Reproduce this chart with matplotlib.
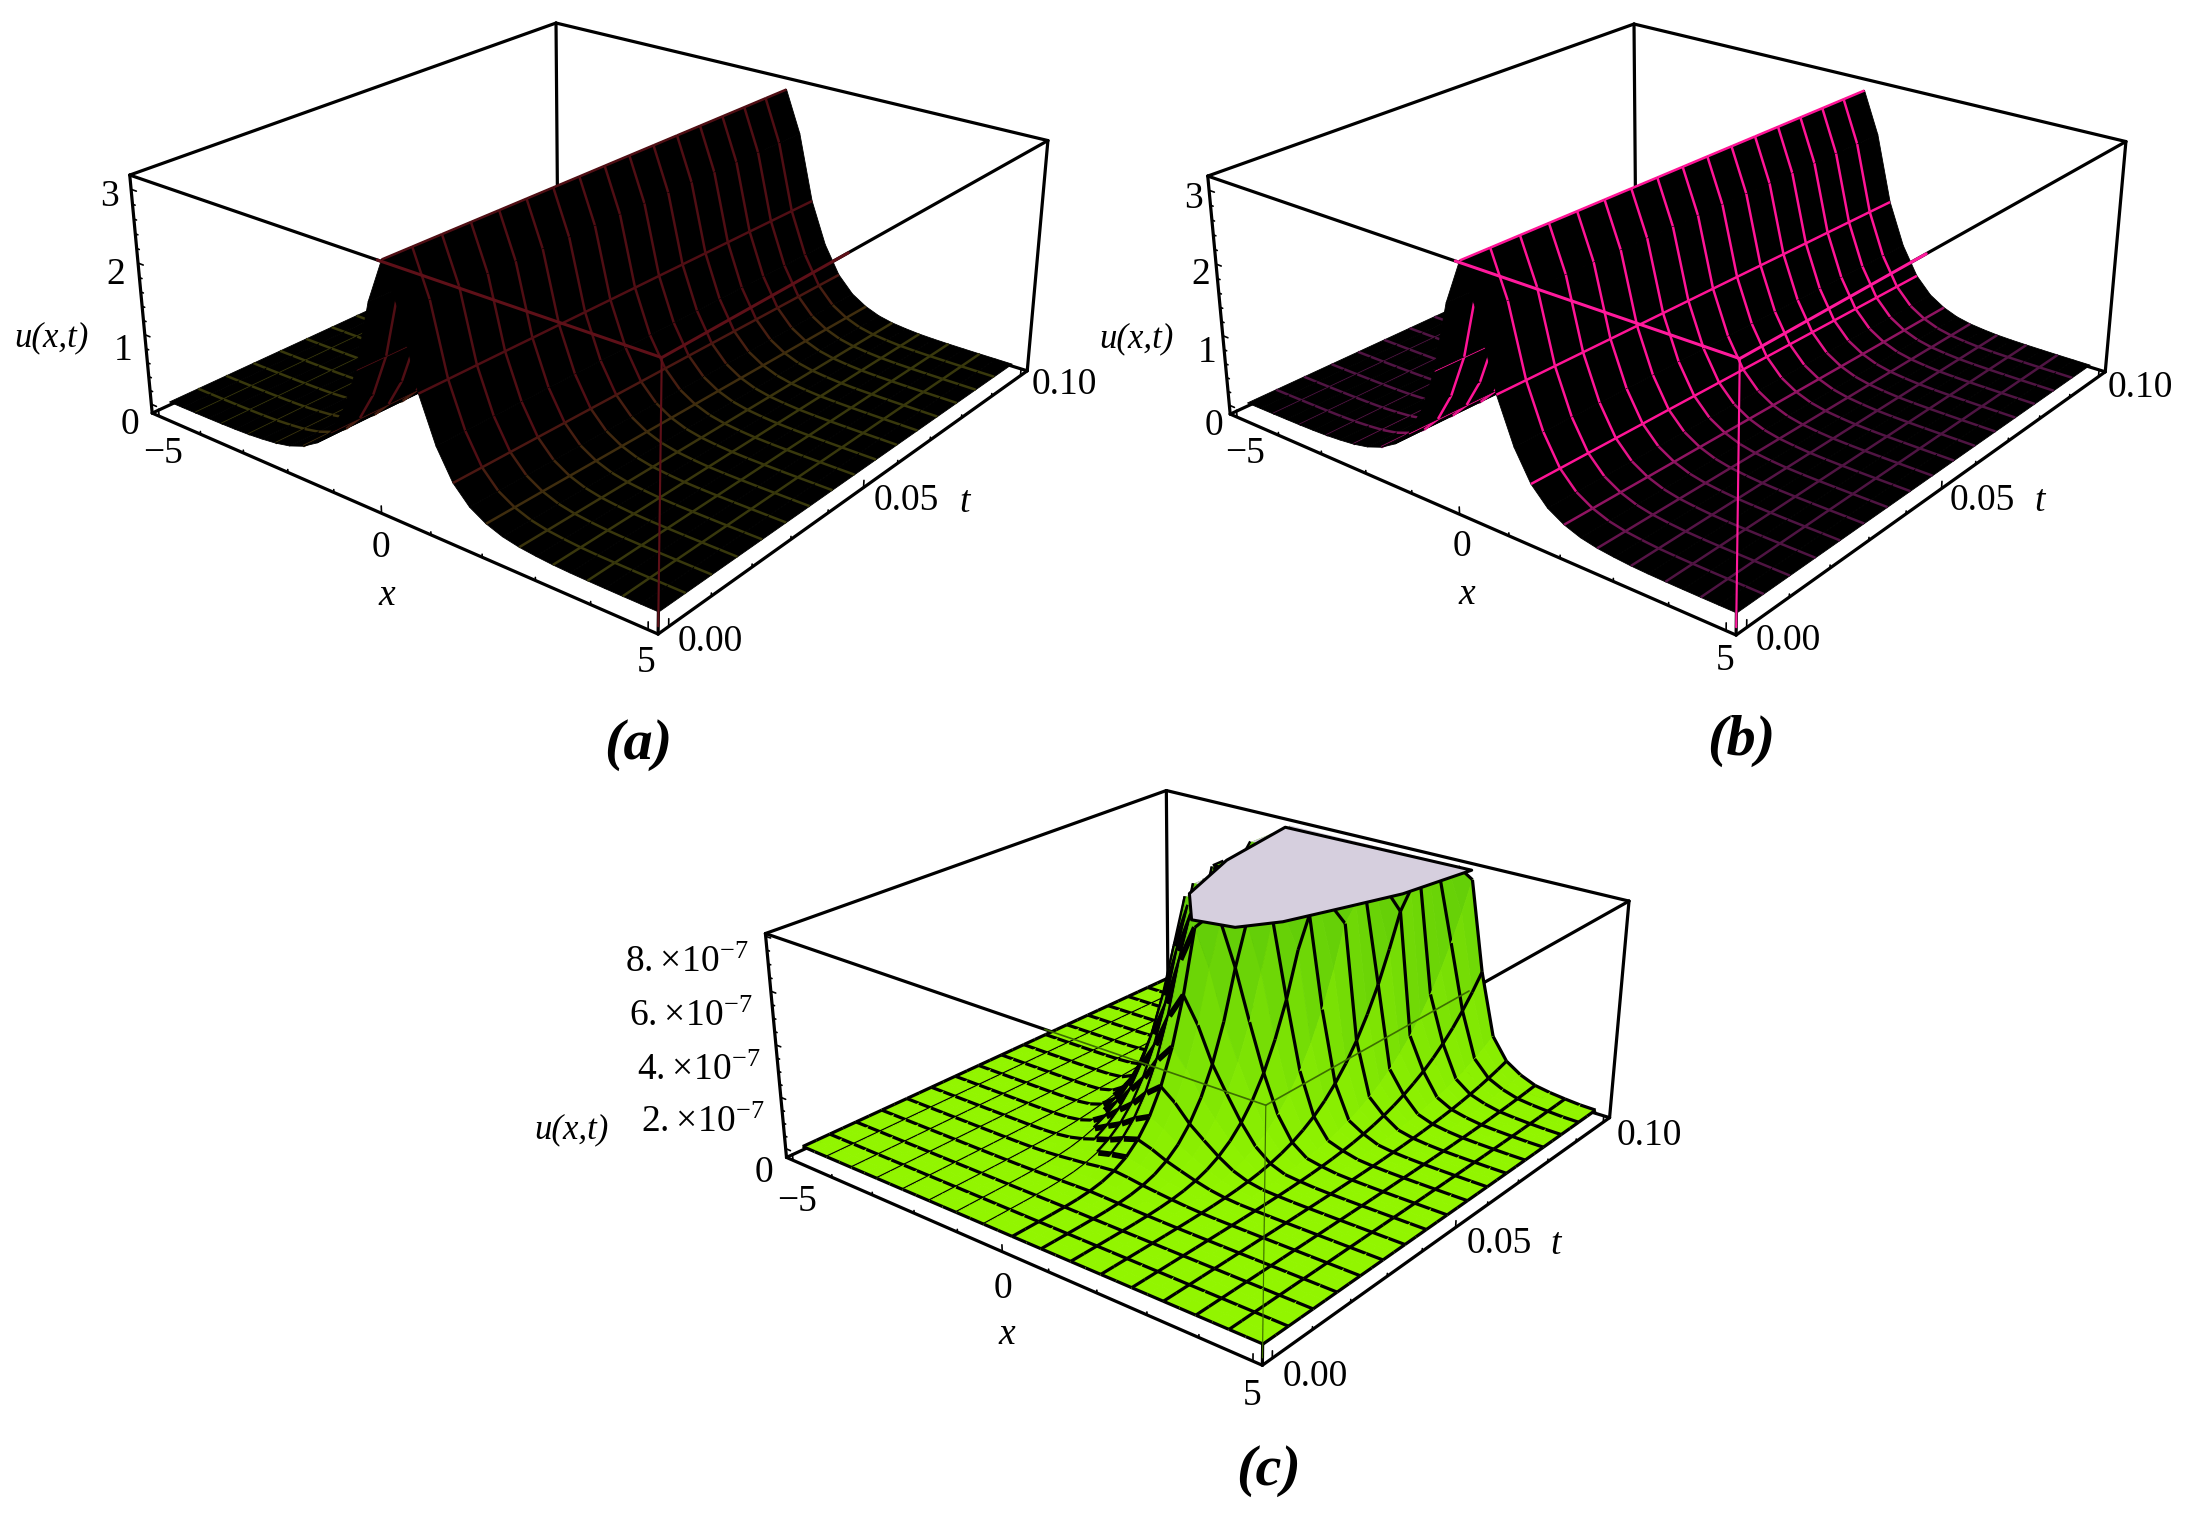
import numpy as np
import matplotlib
matplotlib.use('Agg')
import matplotlib.pyplot as plt
from mpl_toolkits.mplot3d.art3d import Poly3DCollection, Line3DCollection

plt.rcParams['font.family'] = ['Liberation Serif', 'DejaVu Serif']
plt.rcParams['mathtext.fontset'] = 'stix'

WIDTH, HEIGHT = 2192, 1518

# node positions of the surfaces
x_nodes = np.arange(-16, 17) * 0.3125
t_nodes_ab = np.arange(17) * 0.00625
t_nodes_c = np.arange(33) * 0.003125

# u(x, t) read across the ridge, x = 0 ... 5
ridge_right = [3.1, 2.5, 1.55, 0.95, 0.55, 0.32, 0.19, 0.11, 0.065, 0.04,
               0.022, 0.013, 0.008, 0.005, 0.003, 0.002, 0.001]
ridge = np.array(ridge_right[:0:-1] + ridge_right)
# how far the crest has moved at each t, and how much of it each x node follows
ridge_drift = [0.0, 0.016, 0.031, 0.047, 0.063, 0.078, 0.094, 0.11, 0.125,
               0.14, 0.156, 0.172, 0.188, 0.203, 0.219, 0.234, 0.25]
drift_side = [1, 1, 1, 1, 1, 0.95, 0.85, 0.7, 0.55, 0.4, 0.25, 0.15, 0.07, 0.03, 0, 0, 0]
drift_weight = np.array(drift_side[:0:-1] + drift_side)

# error surface of panel c: shape across x and growth along t (units of 1e-7)
error_left = [0.00001, 0.00001, 0.00002, 0.00005, 0.0001, 0.00025, 0.0007, 0.0018,
              0.005, 0.018, 0.05, 0.12, 0.25, 0.43, 0.6, 0.83]
error_right = [1.0, 0.83, 0.6, 0.43, 0.27, 0.14, 0.06, 0.022, 0.012, 0.005,
               0.0026, 0.0015, 0.0008, 0.0005, 0.0003, 0.00015, 0.0001]
error_shape = np.array(error_left + error_right)
error_growth = np.array([0.0, 0.00001, 0.0003, 0.0025, 0.0107, 0.0325, 0.081,
                         0.175, 0.34, 0.61, 1.04, 1.67, 2.59, 3.86, 5.6, 7.9,
                         10.9, 14.8, 19.6, 25.7, 33.3, 42.5, 53.6, 67.0, 82.8,
                         102.0, 123.0, 149.0, 179.0, 213.0, 253.0, 298.0, 349.0])
# outline of the clipped top in panel c
plateau_x = [-0.17, 0.62, 1.08, 1.47, 1.88, 2.15, -1.95, -1.62, -1.02]
plateau_t = [0.048, 0.0498, 0.057, 0.0688, 0.0815, 0.1, 0.099, 0.0764, 0.058]

x_ticks = [-5, 0, 5]
x_minor = list(range(-5, 6))
t_ticks = [0.0, 0.05, 0.1]
t_minor = [i * 0.01 for i in range(11)]
u_ticks = [0, 1, 2, 3]
u_minor = [i * 0.2 for i in range(16)]
err_ticks = [0, 2e-7, 4e-7, 6e-7, 8e-7]
err_minor = [i * 0.5e-7 for i in range(17)]

x_box = (-5.17, 5.17)
t_box = (-0.0024, 0.1024)
u_box = (-0.13, 3.19)
err_box = (-0.35e-7, 8.1e-7)
err_clip = 8.05e-7

# camera fitted to the box corners of the reference
ELEV, AZIM, FOCAL = 23.70, -51.22, 0.4351
ASPECT = (1, 0.9964, 0.4004)


def make_axes(fig, scale, tx, ty):
    ax = fig.add_axes([0, 0, 1, 1], projection='3d', computed_zorder=False)
    ax.view_init(elev=ELEV, azim=AZIM)
    ax.set_proj_type('persp', focal_length=FOCAL)
    ax.set_box_aspect(ASPECT)
    ax.set_axis_off()
    ax.patch.set_visible(False)
    vl = ax.viewLim
    left = tx + scale * vl.x0
    top = ty - scale * vl.y1
    w = scale * (vl.x1 - vl.x0)
    h = scale * (vl.y1 - vl.y0)
    ax.set_position([left / WIDTH, 1 - (top + h) / HEIGHT, w / WIDTH, h / HEIGHT])
    return ax


def add_line(ax, a, b, color='black', lw=1.15, zorder=1):
    ax.plot([a[0], b[0]], [a[1], b[1]], [a[2], b[2]], color=color, lw=lw,
            zorder=zorder, clip_on=False, solid_capstyle='round')


def draw_box(ax, z_box, over, over_x, over_t, over_lw):
    x0, x1 = x_box
    t0, t1 = t_box
    z0, z1 = z_box
    ax.set_xlim(x0, x1)
    ax.set_ylim(t0, t1)
    ax.set_zlim(z0, z1)
    for a, b in [((x0, t1, z1), (x0, t0, z1)), ((x0, t1, z1), (x1, t1, z1)),
                 ((x0, t1, z1), (x0, t1, z0)), ((x0, t0, z0), (x0, t0, z1)),
                 ((x1, t1, z0), (x1, t1, z1)), ((x0, t0, z1), (x1, t0, z1)),
                 ((x1, t0, z1), (x1, t1, z1)), ((x0, t0, z0), (x0, t1, z0)),
                 ((x0, t1, z0), (x1, t1, z0))]:
        add_line(ax, a, b)
    add_line(ax, (x0, t0, z0), (x1, t0, z0), zorder=150)
    add_line(ax, (x1, t0, z0), (x1, t1, z0), zorder=150)
    add_line(ax, (x1, t0, z0), (x1, t0, z1), zorder=1)
    # the front edges show through the surface in the mesh colour
    add_line(ax, (over_x, t0, z1), (x1, t0, z1), color=over, lw=over_lw, zorder=200)
    add_line(ax, (x1, t0, z1), (x1, over_t, z1), color=over, lw=over_lw, zorder=200)
    add_line(ax, (x1, t0, z0 + 0.03 * (z1 - z0)), (x1, t0, z1), color=over,
             lw=over_lw * 0.7, zorder=200)


def draw_ticks(ax, z_box, z_major, z_minor):
    x0, x1 = x_box
    t0, t1 = t_box
    z0, z1 = z_box
    dz = z1 - z0
    dx = x1 - x0
    for v in x_minor:
        ln = 0.03 if v in x_ticks else 0.012
        add_line(ax, (v, t0, z0), (v, t0, z0 + ln * dz), lw=0.6, zorder=160)
    for v in t_minor:
        ln = 0.03 if min(abs(v - m) for m in t_ticks) < 1e-6 else 0.012
        add_line(ax, (x1, v, z0), (x1, v, z0 + ln * dz), lw=0.6, zorder=160)
    for v in z_minor:
        ln = 0.012 if min(abs(v - m) for m in z_major) < 1e-12 else 0.006
        add_line(ax, (x0, t0, v), (x0 + ln * dx, t0, v), lw=0.6, zorder=160)


def draw_surface(ax, x, t, z, face_color, line_color, lw, t_step, boundary=False, dense=None):
    nt, nx = z.shape
    for j in range(nx - 1):
        polys = []
        faces = []
        for i in range(nt - 1):
            polys.append([(x[i, j], t[i], z[i, j]), (x[i, j + 1], t[i], z[i, j + 1]),
                          (x[i + 1, j + 1], t[i + 1], z[i + 1, j + 1]), (x[i + 1, j], t[i + 1], z[i + 1, j])])
            faces.append(face_color(z[i:i + 2, j:j + 2]))
        col = Poly3DCollection(polys, facecolors=faces, edgecolors=faces,
                               linewidths=0.3, zorder=10 + 2 * j)
        col.set_clip_on(False)
        ax.add_collection3d(col, autolim=False)

        # constant t lines in this strip
        segs, cols, widths = [], [], []
        for i in range(nt):
            mean_z = 0.5 * (z[i, j] + z[i, j + 1])
            thick = dense is not None and dense(x[i, j], mean_z)
            if i % t_step and not thick:
                continue
            if not boundary and i in (0, nt - 1):
                continue
            c = line_color(mean_z, z[i, j], z[i, j + 1])
            if c is None:
                continue
            segs.append([(x[i, j], t[i], z[i, j]), (x[i, j + 1], t[i], z[i, j + 1])])
            cols.append(c)
            widths.append(lw * 1.8 if thick else lw)
        if segs:
            lc = Line3DCollection(segs, colors=cols, linewidths=widths, zorder=11 + 2 * j)
            lc.set_clip_on(False)
            ax.add_collection3d(lc, autolim=False)

    # constant x lines, every second node
    for j in range(nx):
        if not boundary and j in (0, nx - 1):
            continue
        falling = j == nx - 1 or z[:, j + 1].mean() <= z[:, j].mean()
        order = 11 + 2 * j if falling else 9 + 2 * j
        segs, cols, widths = [], [], []
        for i in range(nt - 1):
            mean_z = 0.5 * (z[i, j] + z[i + 1, j])
            thick = dense is not None and dense(x[i, j], mean_z)
            if j % 2 and not thick:
                continue
            c = line_color(mean_z, z[i, j], z[i + 1, j])
            if c is None:
                continue
            segs.append([(x[i, j], t[i], z[i, j]), (x[i + 1, j], t[i + 1], z[i + 1, j])])
            cols.append(c)
            widths.append(lw * 1.8 if thick else lw)
        if segs:
            lc = Line3DCollection(segs, colors=cols, linewidths=widths, zorder=order)
            lc.set_clip_on(False)
            ax.add_collection3d(lc, autolim=False)


def height_colors(low, high, full):
    low = np.array(low) / 255
    high = np.array(high) / 255

    def pick(z, a, b):
        f = min(max(z / full, 0.0), 1.0)
        return tuple(low + (high - low) * f)
    return pick


def black_face(z):
    return (0, 0, 0, 1)


PLATEAU = np.array((214, 207, 222)) / 255
FLAT = np.array((146, 245, 0)) / 255
WALL = np.array((98, 205, 8)) / 255


def green_face(z):
    if z.min() >= err_clip:
        return tuple(PLATEAU)
    f = min(z.mean() / err_clip, 1.0) ** 0.9
    return tuple(FLAT + (WALL - FLAT) * f)


def black_line(z, a, b):
    if a >= err_clip and b >= err_clip:
        return None
    return (0, 0, 0, 1)


def left_flank(x, z):
    return -1.9 < x < -0.3 and z > 0.4e-7


def label(fig, px, py, text, size=13.5, **kw):
    fig.text(px / WIDTH, 1 - py / HEIGHT, text, fontsize=size, ha='center', va='center', **kw)


def panel_labels(fig, pos, caption, cap_pos, z_labels):
    for (px, py), s in z_labels:
        label(fig, px, py, s)
    label(fig, pos['xm5'][0], pos['xm5'][1], '\u22125')
    label(fig, pos['x0'][0], pos['x0'][1], '0')
    label(fig, pos['x5'][0], pos['x5'][1], '5')
    label(fig, pos['x'][0], pos['x'][1], 'x', style='italic')
    label(fig, pos['t0'][0], pos['t0'][1], '0.00')
    label(fig, pos['t5'][0], pos['t5'][1], '0.05')
    label(fig, pos['t1'][0], pos['t1'][1], '0.10')
    label(fig, pos['t'][0], pos['t'][1], 't', style='italic')
    label(fig, pos['u'][0], pos['u'][1], 'u(x,t)', size=12.5, style='italic')
    label(fig, cap_pos[0], cap_pos[1], caption, size=21, style='italic', weight='bold')


fig = plt.figure(figsize=(WIDTH / 200, HEIGHT / 200), dpi=200, facecolor='white')

# panel a
z_ab = np.tile(ridge, (len(t_nodes_ab), 1))
x_ab = x_nodes + np.outer(ridge_drift, drift_weight)
ax = make_axes(fig, 4913.6, 598.5, 277.3)
draw_box(ax, u_box, '#5e1018', 0.15, 0.042, 1.1)
draw_ticks(ax, u_box, u_ticks, u_minor)
draw_surface(ax, x_ab, t_nodes_ab, z_ab, black_face,
             height_colors((56, 56, 12), (80, 14, 20), 0.7), 0.9, 1)
panel_labels(fig, {'xm5': (163, 454), 'x0': (381, 548), 'x5': (646, 663), 'x': (387, 596),
                   't0': (710, 642), 't5': (906, 501), 't1': (1064, 385), 't': (965, 503),
                   'u': (51, 338)}, '(a)', (638, 745),
             [((109, 197), '3'), ((116, 275), '2'), ((123, 351), '1'), ((130, 425), '0')])

# panel b
ax = make_axes(fig, 4913.6, 598.5 + 1078, 277.3 + 1)
draw_box(ax, u_box, '#ff1a9c', 0.15, 0.042, 1.1)
draw_ticks(ax, u_box, u_ticks, u_minor)
draw_surface(ax, x_ab, t_nodes_ab, z_ab, black_face,
             height_colors((78, 20, 66), (255, 20, 150), 0.5), 0.9, 1)
panel_labels(fig, {'xm5': (1245, 454), 'x0': (1462, 547), 'x5': (1725, 661), 'x': (1467, 595),
                   't0': (1788, 641), 't5': (1982, 501), 't1': (2140, 388), 't': (2040, 502),
                   'u': (1136, 339)}, '(b)', (1741, 741),
             [((1193, 199), '3'), ((1201, 275), '2'), ((1207, 353), '1'), ((1214, 426), '0')])

# panel c
z_c = np.minimum(np.outer(error_growth, error_shape) * 1e-7, err_clip)
x_c = np.tile(x_nodes, (len(t_nodes_c), 1))
ax = make_axes(fig, 4621.7, 1206.3, 1029.7)
draw_box(ax, err_box, '#3c6e00', 1.1, 0.05, 0.6)
draw_ticks(ax, err_box, err_ticks, err_minor)
draw_surface(ax, x_c, t_nodes_c, z_c, green_face, black_line, 1.15, 2, boundary=True, dense=left_flank)
top = Poly3DCollection([list(zip(plateau_x, plateau_t, [err_clip] * len(plateau_x)))],
                       facecolors=tuple(PLATEAU), edgecolors='black', linewidths=1.1, zorder=130)
top.set_clip_on(False)
ax.add_collection3d(top, autolim=False)
panel_labels(fig, {'xm5': (797, 1202), 'x0': (1003, 1289), 'x5': (1252, 1396), 'x': (1007, 1335),
                   't0': (1315, 1377), 't5': (1499, 1244), 't1': (1649, 1136), 't': (1556, 1245),
                   'u': (571, 1130)}, '(c)', (1269, 1471),
             [((687, 963), r'$\mathregular{8.\!\times\!10^{-7}}$'),
              ((691, 1017), r'$\mathregular{6.\!\times\!10^{-7}}$'),
              ((699, 1071), r'$\mathregular{4.\!\times\!10^{-7}}$'),
              ((703, 1123), r'$\mathregular{2.\!\times\!10^{-7}}$'),
              ((764, 1173), '0')])

fig.savefig('out.png', dpi=200)
